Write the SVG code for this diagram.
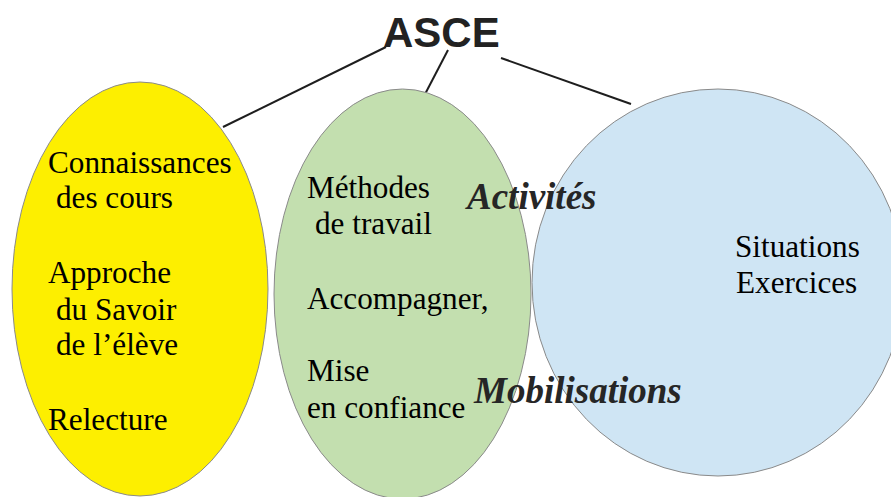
<svg xmlns="http://www.w3.org/2000/svg" width="891" height="497" viewBox="0 0 891 497">
<style>
.bg{fill:#ffffff}
.ell{stroke:#8a8a8a;stroke-width:1}
.conn{stroke:#1e1e1e;stroke-width:2;fill:none}
.t{font-family:"Liberation Serif","Times New Roman",serif;font-size:31.2px;fill:#000}
.lab{font-family:"Liberation Serif","Times New Roman",serif;font-size:37px;font-weight:bold;font-style:italic;fill:#262626}
.title{font-family:"Liberation Sans",Arial,sans-serif;font-size:42px;font-weight:bold;fill:#222}
</style>
<rect class="bg" x="0" y="0" width="891" height="497"/>
<g id="connectors">
<line class="conn" x1="386" y1="47" x2="223" y2="127"/>
<line class="conn" x1="448" y1="50" x2="423" y2="98"/>
<line class="conn" x1="501" y1="58" x2="631" y2="104"/>
</g>
<g id="node-yellow">
<ellipse class="ell" cx="140" cy="289" rx="128" ry="207" fill="#FDEF00"/>
<text class="t" x="48" y="173">Connaissances</text>
<text class="t" x="56" y="208">des cours</text>
<text class="t" x="48" y="283">Approche</text>
<text class="t" x="56" y="320">du Savoir</text>
<text class="t" x="56" y="355">de l’élève</text>
<text class="t" x="48" y="430">Relecture</text>
</g>
<g id="node-green">
<ellipse class="ell" cx="402.5" cy="294" rx="128.5" ry="205" fill="#C3DFAF"/>
<text class="t" x="307" y="198">Méthodes</text>
<text class="t" x="315" y="234">de travail</text>
<text class="t" x="307" y="309">Accompagner,</text>
<text class="t" x="307" y="381">Mise</text>
<text class="t" x="307" y="418">en confiance</text>
</g>
<g id="node-blue">
<ellipse class="ell" cx="718" cy="282.5" rx="186" ry="193.5" fill="#CFE5F4"/>
<text class="t" x="735" y="257">Situations</text>
<text class="t" x="736" y="293">Exercices</text>
</g>
<g id="labels">
<text class="lab" x="467" y="209">Activités</text>
<text class="lab" x="474" y="403">Mobilisations</text>
</g>
<g id="node-asce">
<text class="title" x="383" y="47">ASCE</text>
</g>
</svg>
